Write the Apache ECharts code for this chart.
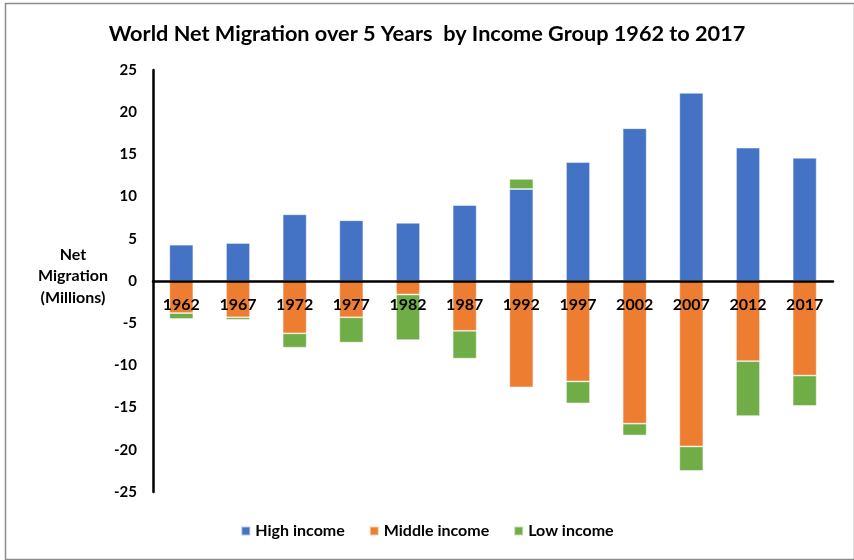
<!DOCTYPE html>
<html>
<head>
<meta charset="utf-8">
<script src="https://cdn.jsdelivr.net/npm/echarts@6/dist/echarts.min.js"></script>
<style>html,body{margin:0;padding:0;background:#fff}#c{width:854px;height:560px}</style>
</head>
<body>
<div id="c"></div>
<script>
const years = ['1962','1967','1972','1977','1982','1987','1992','1997','2002','2007','2012','2017'];
const highIncome = [4.3, 4.5, 7.9, 7.2, 6.9, 9.0, 10.9, 14.1, 18.1, 22.3, 15.8, 14.6];
const middleIncome = [-3.8, -4.3, -6.2, -4.3, -1.6, -5.9, -12.6, -11.9, -16.9, -19.6, -9.5, -11.2];
const lowIncome = [-0.7, -0.3, -1.7, -3.0, -5.4, -3.3, 1.2, -2.6, -1.4, -2.9, -6.5, -3.6];
const yTicks = [-25, 25, 5];

const FONT = 'Lato, "Open Sans", sans-serif';
const chart = echarts.init(document.getElementById('c'));
const barCommon = {
  type: 'bar', stack: 'total', barWidth: 24, z: 2,
  itemStyle: { borderColor: 'rgba(255,255,255,0.6)', borderWidth: 0.8 }
};
chart.setOption({
  animation: false,
  backgroundColor: '#fff',
  title: {
    text: 'World Net Migration over 5 Years  by Income Group 1962 to 2017',
    left: 'center', top: 18,
    textStyle: { fontFamily: FONT, fontSize: 21.7, fontWeight: 'bold', color: '#000' }
  },
  grid: { left: 153, right: 21, top: 70, bottom: 68 },
  legend: {
    bottom: 16, left: 'center', itemWidth: 9, itemHeight: 9, itemGap: 24,
    icon: 'rect',
    textStyle: { fontFamily: FONT, fontSize: 16, fontWeight: 'bold', color: '#000' },
    data: ['High income', 'Middle income', 'Low income']
  },
  graphic: [
    { type: 'rect', left: 3, top: 1, shape: { width: 849, height: 556 },
      style: { fill: 'none', stroke: '#8c8c8c', lineWidth: 1.5 }, silent: true },
    { type: 'text', left: 38, top: 244,
      style: { text: 'Net\nMigration\n(Millions)', textAlign: 'center', fontFamily: FONT,
        fontSize: 16, fontWeight: 'bold', lineHeight: 21.5, fill: '#000' } }
  ],
  xAxis: {
    type: 'category', data: years,
    offset: -211, z: 10,
    axisLine: { onZero: false, lineStyle: { color: '#000', width: 2.5 } },
    axisTick: { show: false },
    axisLabel: { fontFamily: FONT, fontSize: 16, fontWeight: 'bold', color: '#000', margin: 16 }
  },
  yAxis: {
    type: 'value', min: yTicks[0], max: yTicks[1], interval: yTicks[2],
    axisLine: { show: true, lineStyle: { color: '#000', width: 2.5 } },
    axisTick: { show: false },
    splitLine: { show: false },
    axisLabel: { fontFamily: FONT, fontSize: 15, fontWeight: 'bold', color: '#000', margin: 16 }
  },
  series: [
    Object.assign({}, barCommon, { name: 'High income', data: highIncome, itemStyle: Object.assign({}, barCommon.itemStyle, { color: '#4472C4' }) }),
    Object.assign({}, barCommon, { name: 'Middle income', data: middleIncome, itemStyle: Object.assign({}, barCommon.itemStyle, { color: '#ED7D31' }) }),
    Object.assign({}, barCommon, { name: 'Low income', data: lowIncome, itemStyle: Object.assign({}, barCommon.itemStyle, { color: '#70AD47' }) })
  ]
});
</script>
</body>
</html>
